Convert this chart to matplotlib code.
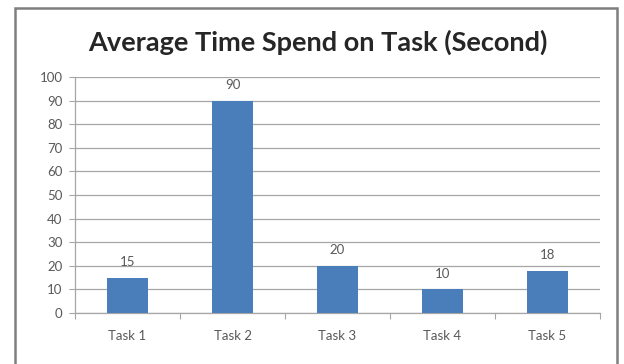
import matplotlib.pyplot as plt
from matplotlib.patches import Rectangle

# chart data
tasks = ['Task 1', 'Task 2', 'Task 3', 'Task 4', 'Task 5']
avg_time = [15, 90, 20, 10, 18]
y_ticks = list(range(0, 101, 10))

bar_color = '#4A7EBB'
text_grey = '#595959'
grid_grey = '#A6A6A6'

plt.rcParams['font.family'] = ['Lato', 'DejaVu Sans']

fig = plt.figure(figsize=(6.24, 3.64), dpi=100)

# outer chart frame (bottom edge is cut off in the original)
frame = Rectangle((15 / 624, -0.05), (617 - 15) / 624, 1.05 - 8 / 364,
                  transform=fig.transFigure, fill=False,
                  edgecolor='#7F7F7F', linewidth=1.8)
fig.patches.append(frame)

ax = fig.add_axes([75 / 624, 1 - 313 / 364, (600 - 75) / 624, (313 - 77) / 364])

x = range(len(tasks))
bars = ax.bar(x, avg_time, width=0.39, color=bar_color, zorder=3)

for b, v in zip(bars, avg_time):
    ax.text(b.get_x() + b.get_width() / 2, v + 4, str(v), ha='center',
            va='bottom', fontsize=9.5, color=text_grey)

ax.set_xlim(-0.5, len(tasks) - 0.5)
ax.set_ylim(0, 100)
ax.set_yticks(y_ticks)
ax.yaxis.grid(True, color=grid_grey, linewidth=0.9, zorder=0)

# category labels centred, tick marks on the category boundaries
ax.set_xticks([i - 0.5 for i in range(len(tasks) + 1)])
ax.set_xticklabels([])
ax.set_xticks(list(x), minor=True)
ax.set_xticklabels(tasks, minor=True)
ax.tick_params(axis='x', which='major', length=4, color=grid_grey, direction='out')
ax.tick_params(axis='x', which='minor', length=0, pad=12, labelsize=9.5,
               labelcolor=text_grey)
ax.tick_params(axis='y', length=4, color=grid_grey, pad=5, labelsize=9.5,
               labelcolor=text_grey)

for side in ['top', 'right']:
    ax.spines[side].set_visible(False)
for side in ['left', 'bottom']:
    ax.spines[side].set_color(grid_grey)
    ax.spines[side].set_linewidth(0.9)

fig.text(0.510, 1 - 42 / 364, 'Average Time Spend on Task (Second)',
         ha='center', va='center', fontsize=19.5, fontweight='bold',
         color='#262626')

plt.savefig('out.png', dpi=100)
plt.close()
